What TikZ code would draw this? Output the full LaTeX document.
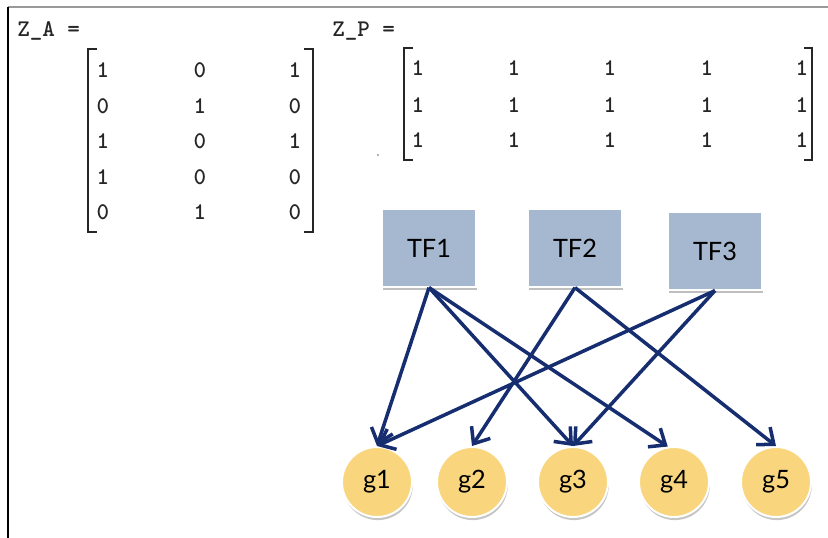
\documentclass[tikz,border=0pt]{standalone}
\usepackage{fontspec}
\usepackage{tikz}
\usetikzlibrary{arrows.meta,shadows}
\newfontfamily\labelfont{Lato}
\definecolor{tfblue}{RGB}{165,184,208}
\definecolor{geneyellow}{RGB}{249,214,126}
\definecolor{edgenavy}{RGB}{22,46,112}

\begin{document}
\begin{tikzpicture}[x=0.025cm, y=-0.025cm,
	entry/.style={font=\ttfamily\bfseries\fontsize{17}{17}\selectfont, text=black!85, inner sep=0pt},
	matname/.style={entry, font=\ttfamily\bfseries\fontsize{17}{17}\selectfont\addfontfeature{LetterSpace=14}},
	bracket/.style={black!85, line width=1.4pt},
	tf/.style={rectangle, fill=tfblue, draw=white, line width=1.4pt, minimum width=2.35cm, minimum height=1.93cm, drop shadow={shadow xshift=1pt, shadow yshift=-2.2pt, opacity=0.5}, font=\labelfont\fontsize{18}{18}\selectfont},
	gene/.style={circle, fill=geneyellow, draw=white, line width=1.4pt, minimum size=1.75cm, drop shadow={shadow xshift=0.6pt, shadow yshift=-2.2pt, opacity=0.45}, font=\labelfont\fontsize{18}{18}\selectfont},
	link/.style={-{Straight Barb[length=3.4mm,width=5.6mm]}, edgenavy, line width=2.5pt}]
	\useasboundingbox (0,0) rectangle (828,538);
	
	\draw[black!40, line width=0.8pt] (8,7) -- (828,7);
	\draw[black, line width=1.8pt] (8,7) -- (8,538);
	
	\node[matname, anchor=west] (za) at (17,31) {Z\_A =};
	\foreach \r/\y/\a/\b/\c in {1/70/1/0/1, 2/106/0/1/0, 3/141/1/0/1, 4/177/1/0/0, 5/212/0/1/0} {
		\node[entry] (za-\r-1) at (103,\y) {\a};
		\node[entry] (za-\r-2) at (200,\y) {\b};
		\node[entry] (za-\r-3) at (295,\y) {\c};
	}
	\draw[bracket] (97,49) -- (88,49) -- (88,232) -- (97,232);
	\draw[bracket] (304,49) -- (313,49) -- (313,232) -- (304,232);
	
	\node[matname, anchor=west] (zp) at (332,31) {Z\_P =};
	\foreach \r/\y in {1/68, 2/105, 3/140}
		\foreach \c/\x in {1/418, 2/514, 3/610, 4/707, 5/802}
			\node[entry] (zp-\r-\c) at (\x,\y) {1};
	\draw[bracket] (413,48) -- (404,48) -- (404,160) -- (413,160);
	\draw[bracket] (804,48) -- (812,48) -- (812,160) -- (804,160);
	\fill[black!60] (378,155) circle (0.6pt);
	
	\node[tf] (tf1) at (429,248) {TF1};
	\node[tf] (tf2) at (575,248) {TF2};
	\node[tf] (tf3) at (715,251) {TF3};
	
	\foreach \i/\x in {1/377, 2/472, 3/573, 4/674, 5/776}
		\node[gene] (g\i) at (\x,482) {g\i};
	
	\draw[link] (tf1.south) -- (g1.north);
	\draw[link] (tf1.south) -- (g3.north);
	\draw[link] (tf1.south) -- (g4.100);
	\draw[link] (tf2.south) -- (g2.north);
	\draw[link] (tf2.south) -- (g5.north);
	\draw[link] (tf3.south) -- (g1.north);
	\draw[link] (tf3.south) -- (g3.north);
\end{tikzpicture}
\end{document}
